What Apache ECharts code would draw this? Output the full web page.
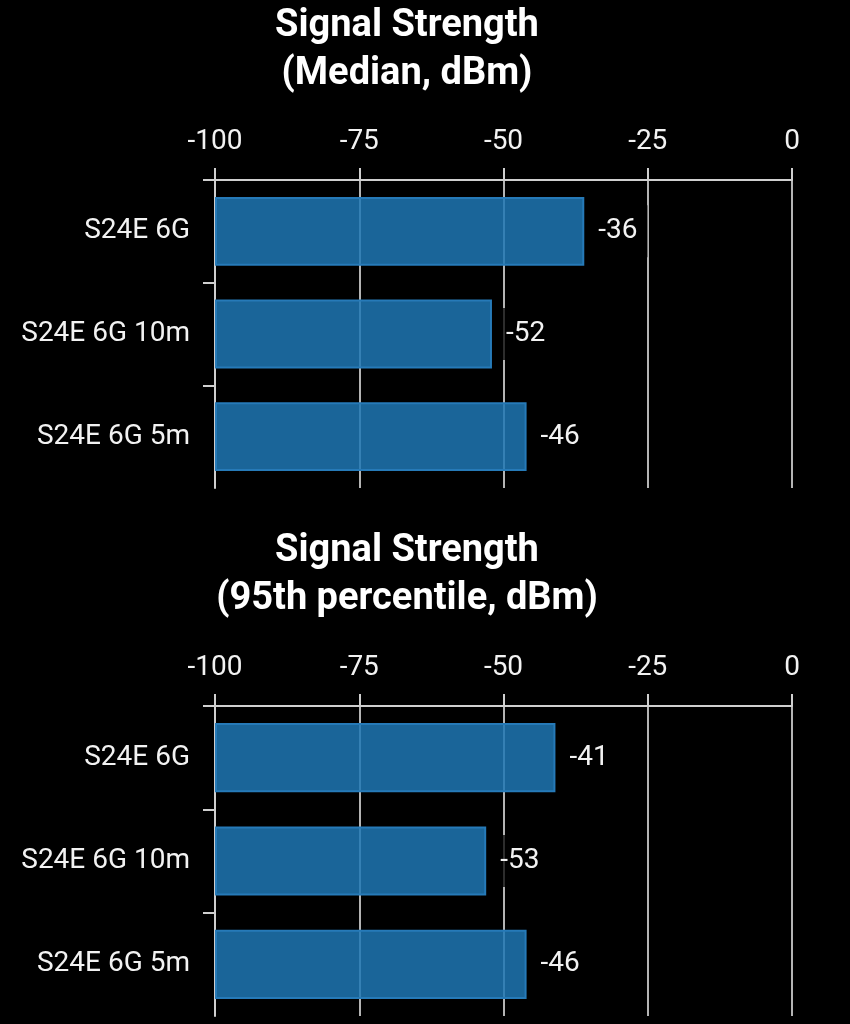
<!DOCTYPE html>
<html>
<head>
<meta charset="utf-8">
<style>
  html, body { margin: 0; padding: 0; background: #000; }
  #chart { width: 850px; height: 1024px; }
</style>
<script src="https://cdn.jsdelivr.net/npm/echarts@6/dist/echarts.min.js"></script>
</head>
<body>
<div id="chart"></div>
<script>
const categories = ['S24E 6G', 'S24E 6G 10m', 'S24E 6G 5m'];
const medianValues = [-36, -52, -46];
const p95Values = [-41, -53, -46];
const xTicks = [-100, -75, -50, -25, 0];
const titles = ['Signal Strength\n(Median, dBm)', 'Signal Strength\n(95th percentile, dBm)'];

const FONT = 'Roboto, "Noto Sans", sans-serif';
const gridColor = '#b4b4b4';
const axisColor = '#cfcfcf';

// Categories listed bottom-to-top for the (non-inverted) category axis
const catsBottomUp = categories.slice().reverse();

const chart = echarts.init(document.getElementById('chart'), null, { renderer: 'canvas' });

function xAxisCfg(gi) {
  return {
    gridIndex: gi, type: 'value', position: 'top',
    min: xTicks[0], max: xTicks[xTicks.length - 1], interval: 25,
    startValue: xTicks[0],
    axisLine: { show: true, onZero: false, lineStyle: { color: axisColor, width: 2 } },
    axisTick: { show: true, length: 12, lineStyle: { color: axisColor, width: 2 } },
    axisLabel: { color: '#f2f2f2', fontSize: 28, fontFamily: FONT, margin: 24 },
    splitLine: { show: true, lineStyle: { color: gridColor, width: 2 } }
  };
}
function yAxisCfg(gi) {
  return {
    gridIndex: gi, type: 'category', data: catsBottomUp, position: 'left',
    axisLine: { show: true, onZero: false, lineStyle: { color: axisColor, width: 2 } },
    axisTick: { show: true, length: 12, interval: function (idx) { return idx !== 0; },
                lineStyle: { color: axisColor, width: 2 } },
    axisLabel: { color: '#f2f2f2', fontSize: 28, fontFamily: FONT, margin: 25, interval: 0 },
    splitLine: { show: false }
  };
}
function seriesCfg(gi, vals) {
  return {
    type: 'bar', xAxisIndex: gi, yAxisIndex: gi, data: vals.slice().reverse(),
    barCategoryGap: '33%',
    itemStyle: { color: 'rgba(31,119,180,0.85)', borderColor: 'rgba(38,122,184,1)', borderWidth: 2 },
    label: {
      show: true, position: 'right', distance: 4,
      color: '#f2f2f2', fontSize: 28, fontFamily: FONT,
      padding: [12, 10], backgroundColor: 'rgba(0,0,0,0.75)'
    }
  };
}

chart.setOption({
  backgroundColor: '#000',
  animation: false,
  title: [
    { text: titles[0], left: 402, top: -3, textAlign: 'center',
      textStyle: { color: '#fff', fontSize: 38, fontWeight: 'bold', fontFamily: FONT, lineHeight: 48 } },
    { text: titles[1], left: 402, top: 522, textAlign: 'center',
      textStyle: { color: '#fff', fontSize: 38, fontWeight: 'bold', fontFamily: FONT, lineHeight: 48 } }
  ],
  grid: [
    { left: 215, right: 58, top: 180, height: 308, containLabel: false },
    { left: 215, right: 58, top: 706, height: 310, containLabel: false }
  ],
  xAxis: [xAxisCfg(0), xAxisCfg(1)],
  yAxis: [yAxisCfg(0), yAxisCfg(1)],
  series: [seriesCfg(0, medianValues), seriesCfg(1, p95Values)]
});
</script>
</body>
</html>
